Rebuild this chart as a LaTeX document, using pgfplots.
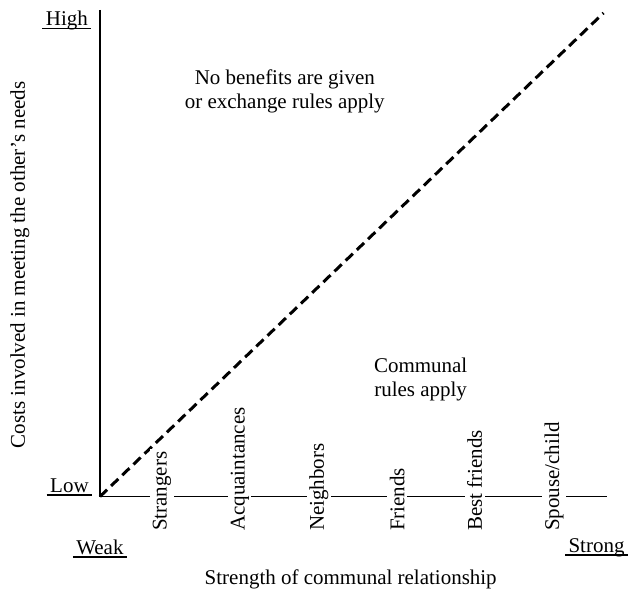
\documentclass[border=0pt]{standalone}
\usepackage{pgfplots}
\pgfplotsset{compat=1.18}
\usepackage{fontspec}
\setmainfont{Liberation Serif}
\newcommand\ul[1]{\setbox0\hbox{\,#1\,}\rlap{\rule[-3bp]{\wd0}{1.2bp}}\box0}
\begin{document}
\begin{tikzpicture}[font=\fontsize{21bp}{24bp}\selectfont]
\begin{axis}[
  x=1bp, y=1bp, xmin=0, xmax=628, ymin=0, ymax=592, y dir=reverse,
  hide axis, clip=false, scale only axis,
]
\path[draw=none] (axis cs:0,0) rectangle (axis cs:628,592);
% axes
\addplot[black, line width=1.3bp] coordinates {(100,10) (100,497)};
\addplot[black, line width=1.3bp] coordinates {(100,497) (607,497)};
% dividing line
\addplot[black, line width=3bp, dash pattern=on 10bp off 5.5bp] coordinates {(100,497) (604,13)};
% category labels
\node[rotate=90, anchor=west, fill=white, inner sep=2.5bp] at (axis cs:162,534) {Strangers};
\node[rotate=90, anchor=west, fill=white, inner sep=2.5bp] at (axis cs:240,534) {Acquaintances};
\node[rotate=90, anchor=west, fill=white, inner sep=2.5bp] at (axis cs:319,534) {Neighbors};
\node[rotate=90, anchor=west, fill=white, inner sep=2.5bp] at (axis cs:397.5,534) {Friends};
\node[rotate=90, anchor=west, fill=white, inner sep=2.5bp] at (axis cs:475,534) {Best friends};
\node[rotate=90, anchor=west, fill=white, inner sep=2.5bp] at (axis cs:554.5,534) {Spouse/child};
% end labels
\node[anchor=base, inner sep=0pt] at (axis cs:67,26) {\ul{High}};
\node[anchor=base, inner sep=0pt] at (axis cs:69.5,493) {\ul{Low}};
\node[anchor=base, inner sep=0pt] at (axis cs:100,555) {\ul{Weak}};
\node[anchor=base, inner sep=0pt] at (axis cs:597,553) {\ul{Strong}};
% region texts
\node[align=center, inner sep=0pt] at (axis cs:285,91) {No benefits are given\\or exchange rules apply};
\node[align=center, inner sep=0pt] at (axis cs:421,380) {Communal\\rules apply};
% axis titles
\node[anchor=base, inner sep=0pt] at (axis cs:351,585) {Strength of communal relationship};
\node[rotate=90, inner sep=0pt] at (axis cs:20,265) {Costs involved in meeting the other’s needs};
\end{axis}
\end{tikzpicture}
\end{document}
